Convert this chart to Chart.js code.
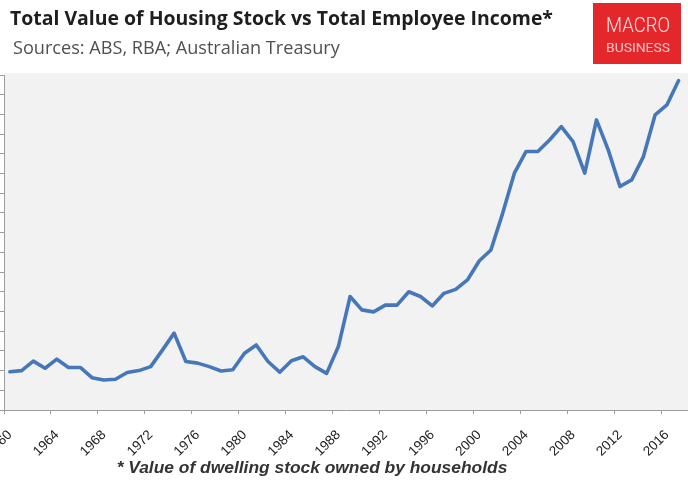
<!DOCTYPE html>
<html>
<head>
<meta charset="utf-8">
<script src="https://cdn.jsdelivr.net/npm/chart.js@4.4.1/dist/chart.umd.min.js"></script>
<style>
  html, body { margin: 0; padding: 0; background: #ffffff; }
  body { width: 688px; height: 481px; position: relative; overflow: hidden; }
  .txt { position: absolute; white-space: nowrap; }
  #title {
    left: 10px; top: 4px;
    font: 700 17px "Open Sans", "Liberation Sans", sans-serif;
    color: #1e1e1e;
  }
  #subtitle {
    left: 13px; top: 35px;
    font: 400 15px "Open Sans", "Liberation Sans", sans-serif;
    color: #505050;
  }
  #logo {
    position: absolute; left: 593px; top: 3px; width: 88px; height: 61px;
    background: #e3272b;
  }
  #logo span {
    position: absolute; white-space: nowrap; transform-origin: 0 0;
    font-family: "Roboto", "Liberation Sans", sans-serif;
  }
  #logo .m { left: 13px; top: 10px; font-size: 21px; font-weight: 300; color: #fbe3e3; }
  #logo .b { left: 13px; top: 37px; font-size: 13px; font-weight: 400; color: #f6c3c3; }
  #wrap { position: absolute; left: -60px; top: 0; width: 748px; height: 481px; }
  #note {
    top: 457px;
    font: italic 700 15px "Liberation Sans", "Open Sans", sans-serif;
    color: #333333;
  }
</style>
</head>
<body>
<div id="wrap"><canvas id="chart" width="748" height="481"></canvas></div>
<div id="title" class="txt">Total Value of Housing Stock vs Total Employee Income*</div>
<div id="subtitle" class="txt">Sources: ABS, RBA; Australian Treasury</div>
<div id="logo"><span class="m">MACRO</span><span class="b">BUSINESS</span></div>
<div id="note" class="txt">* Value of dwelling stock owned by households</div>
<script>
// Financial years 1960 .. 2017
const years = [
  1960, 1961, 1962, 1963, 1964, 1965, 1966, 1967, 1968, 1969,
  1970, 1971, 1972, 1973, 1974, 1975, 1976, 1977, 1978, 1979,
  1980, 1981, 1982, 1983, 1984, 1985, 1986, 1987, 1988, 1989,
  1990, 1991, 1992, 1993, 1994, 1995, 1996, 1997, 1998, 1999,
  2000, 2001, 2002, 2003, 2004, 2005, 2006, 2007, 2008, 2009,
  2010, 2011, 2012, 2013, 2014, 2015, 2016, 2017
];

// Housing stock value relative to employee income
const ratio = [
  0.97, 1.00, 1.24, 1.06, 1.29, 1.08, 1.08, 0.82, 0.76, 0.78,
  0.95, 1.00, 1.10, 1.52, 1.95, 1.23, 1.19, 1.10, 0.99, 1.02,
  1.44, 1.65, 1.23, 0.96, 1.25, 1.35, 1.10, 0.93, 1.61, 2.88,
  2.54, 2.49, 2.66, 2.66, 3.00, 2.88, 2.64, 2.96, 3.06, 3.30,
  3.78, 4.06, 4.99, 6.01, 6.56, 6.56, 6.85, 7.19, 6.81, 6.01,
  7.36, 6.60, 5.67, 5.84, 6.43, 7.49, 7.74, 8.36
];

// Year tick labels along the bottom axis
const yearTicks = [1960, 1964, 1968, 1972, 1976, 1980, 1984, 1988, 1992, 1996, 2000, 2004, 2008, 2012, 2016];

// Header and footnote text sizes: grow the font until the line spans the given width
function fitFont(id, width) {
  const el = document.getElementById(id);
  const size = parseFloat(getComputedStyle(el).fontSize);
  el.style.fontSize = (size * width / el.getBoundingClientRect().width).toFixed(2) + 'px';
}
// Logo lettering: squeeze horizontally to the given width
function fitScale(el, width) {
  el.style.transform = 'scaleX(' + (width / el.getBoundingClientRect().width).toFixed(3) + ')';
}
fitFont('title', 543);
fitFont('subtitle', 327);
fitFont('note', 391);
const note = document.getElementById('note');
note.style.left = (312 - note.getBoundingClientRect().width / 2) + 'px';
fitScale(document.querySelector('#logo .m'), 64);
fitScale(document.querySelector('#logo .b'), 64);

const axisGrey = '#9c9c9c';

// each observation sits at the middle of its year
const points = years.map((yr, i) => ({ x: yr + 0.5, y: ratio[i] }));

const plotBackground = {
  id: 'plotBackground',
  beforeDraw(chart) {
    const { ctx, chartArea: a } = chart;
    ctx.save();
    ctx.fillStyle = '#f2f2f2';
    ctx.fillRect(a.left, a.top - 2, a.right - a.left, a.bottom - a.top + 2);
    ctx.restore();
  }
};

new Chart(document.getElementById('chart'), {
  type: 'line',
  data: {
    datasets: [{
      data: points,
      borderColor: '#4678b9',
      borderWidth: 3.6,
      pointRadius: 0,
      tension: 0,
      borderJoinStyle: 'round',
      borderCapStyle: 'round'
    }]
  },
  options: {
    responsive: false,
    animation: false,
    layout: { padding: { top: 75, right: 0, bottom: 11, left: 0 } },
    plugins: { legend: { display: false }, tooltip: { enabled: false } },
    scales: {
      x: {
        type: 'linear',
        min: 1960,
        max: 2018.3,
        afterBuildTicks(scale) { scale.ticks = yearTicks.map(v => ({ value: v })); },
        afterFit(scale) { scale.height = 60; },
        border: { color: axisGrey, width: 1 },
        grid: { drawOnChartArea: false, drawTicks: true, tickLength: 4, color: axisGrey },
        ticks: {
          autoSkip: false,
          minRotation: 45,
          maxRotation: 45,
          padding: 13,
          labelOffset: 6,
          color: '#202020',
          font: { family: 'Liberation Sans', size: 13.5 },
          callback: v => String(v)
        }
      },
      y: {
        min: 0,
        max: 8.5,
        afterFit(scale) { scale.width = 64; },
        border: { color: axisGrey, width: 1 },
        grid: { drawOnChartArea: false, drawTicks: true, tickLength: 4, color: axisGrey },
        ticks: { display: false, stepSize: 0.5 }
      }
    }
  },
  plugins: [plotBackground]
});
</script>
</body>
</html>
